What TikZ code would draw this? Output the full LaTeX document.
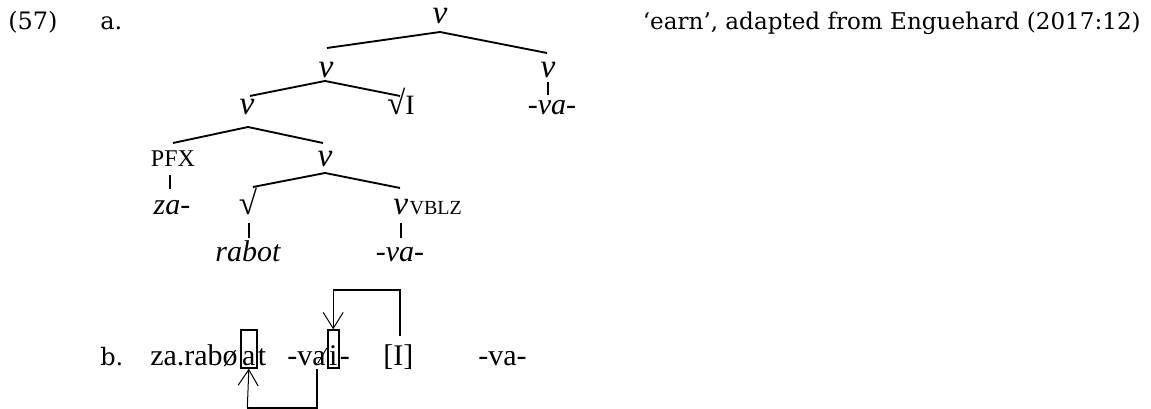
\documentclass[tikz,border=0pt]{standalone}
\usepackage{fontspec}
\setmainfont{Liberation Serif}
\newfontfamily\capfont{DejaVu Serif}
\usetikzlibrary{calc,arrows.meta}
\begin{document}
\begin{tikzpicture}[x=0.75pt,y=-0.75pt,
  captxt/.style={font=\capfont\fontsize{18}{20}\selectfont, inner sep=0, anchor=base west},
  itl/.style={font=\fontsize{22.5}{24}\selectfont\itshape, inner sep=0, anchor=base},
  vl/.style={font=\fontsize{25}{27}\selectfont\itshape, inner sep=0, anchor=base},
  rml/.style={font=\fontsize{18}{20}\selectfont, inner sep=0, anchor=base},
  rtl/.style={font=\fontsize{21}{22}\selectfont, inner sep=0, anchor=base},
  subl/.style={font=\fontsize{15}{17}\selectfont, inner sep=0, anchor=base west},
  brl/.style={line width=1.4pt},
  unl/.style={line width=2.2pt},
  bline/.style={font=\fontsize{22.5}{26}\selectfont, inner sep=0, anchor=base west},
  boxl/.style={bline, draw, line width=1.5pt, inner xsep=0.9pt, inner ysep=0pt, text height=26pt, text depth=2pt},
  thkl/.style={line width=1.5pt},
  thnl/.style={line width=0.75pt, -{Straight Barb[length=12pt,width=15pt,line width=0.75pt]}},
]
\useasboundingbox (0,0) rectangle (1151,409);

% labels
\node[captxt] (n57) at (8,30) {(57)};
\node[captxt] (la) at (100,30) {a.};
\node[captxt, anchor=base east, font=\capfont\fontsize{17.3}{20}\selectfont] (gl) at (1141,30) {‘earn’, adapted from Enguehard (2017:12)};
\node[captxt] (lb) at (100,365) {b.};

% tree
\node[vl] (v0) at (440,24) {v};
\node[vl] (v1) at (326,78) {v};
\node[vl] (v1r) at (548,78) {v};
\node[itl] (va1) at (552,115) {-va-};
\node[vl] (v2) at (247,115) {v};
\node[rtl] (rI) at (401,115) {{\fontsize{25}{25}\selectfont √}I};
\node[rml] (pfx) at (173,167) {PFX};
\node[vl] (v3) at (325,167) {v};
\node[itl] (za) at (172,215) {za-};
\node[rtl, font=\fontsize{25}{25}\selectfont] (sq) at (248,215) {√};
\node[vl, anchor=base west] (v4) at (393,215) {v};
\node[subl] (vblz) at ($(v4.base east)+(1,0)$) {VBLZ};
\node[itl] (rabot) at (248,262) {rabot};
\node[itl] (va2) at (400,262) {-va-};

% branches
\draw[brl] ($(v1.base)+(1,-30)$) -- ($(v0.base)+(0,8)$) -- ($(v1r.base)+(-1,-25)$);
\draw[brl] ($(v2.base)+(3,-19)$) -- ($(v1.base)+(-1,3)$) -- ($(rI.base)+(-1,-19)$);
\draw[brl] ($(pfx.base)+(0,-24)$) -- ($(v2.base)+(1,12)$) -- ($(v3.base)+(-2,-24)$);
\draw[brl] ($(sq.base)+(5,-28)$) -- ($(v3.base)+(0,6)$) -- ($(v4.base west)+(7,-27)$);

% unary lines
\draw[unl] ($(v1r.base)+(0,4)$) -- ($(va1.base)+(-4,-20)$);
\draw[unl] ($(pfx.base)+(-3,8)$) -- ($(za.base)+(-2,-26)$);
\draw[unl] ($(sq.base)+(1,8)$) -- ($(rabot.base)+(1,-24)$);
\draw[unl] ($(v4.base west)+(8,8)$) -- ($(va2.base)+(1,-24)$);

% line b
\node[bline] (w1) at (150,365) {za.rabø};
\node[boxl, anchor=base west] (ba) at ($(w1.base east)+(2,0)$) {a};
\node[bline] (w1t) at (ba.base east) {t};
\node[bline] (w2) at (287,365) {-va};
\node[boxl, anchor=base west] (bi) at ($(w2.base east)+(1,0)$) {i};
\node[bline] (w2d) at (bi.base east) {-};
\node[bline] (w3) at (383,365) {[I]};
\node[bline] (w4) at (478,365) {-va-};
\draw[line width=0.7pt] ($(bi.base west)+(-9,-2)$) -- ($(bi.base west)+(0,-17)$);

% arrows
\coordinate (tc) at ($(bi.north)+(0,-39)$);
\draw[thkl] ($(w3.north)+(2,-8)$) |- (tc);
\draw[thnl] (tc) -- (bi.north);
\coordinate (bc) at ($(ba.south)+(-1.5,39)$);
\draw[thkl] ($(bi.south west)+(-10,0)$) |- (bc);
\draw[thnl] (bc) -- (ba.south);
\end{tikzpicture}
\end{document}
